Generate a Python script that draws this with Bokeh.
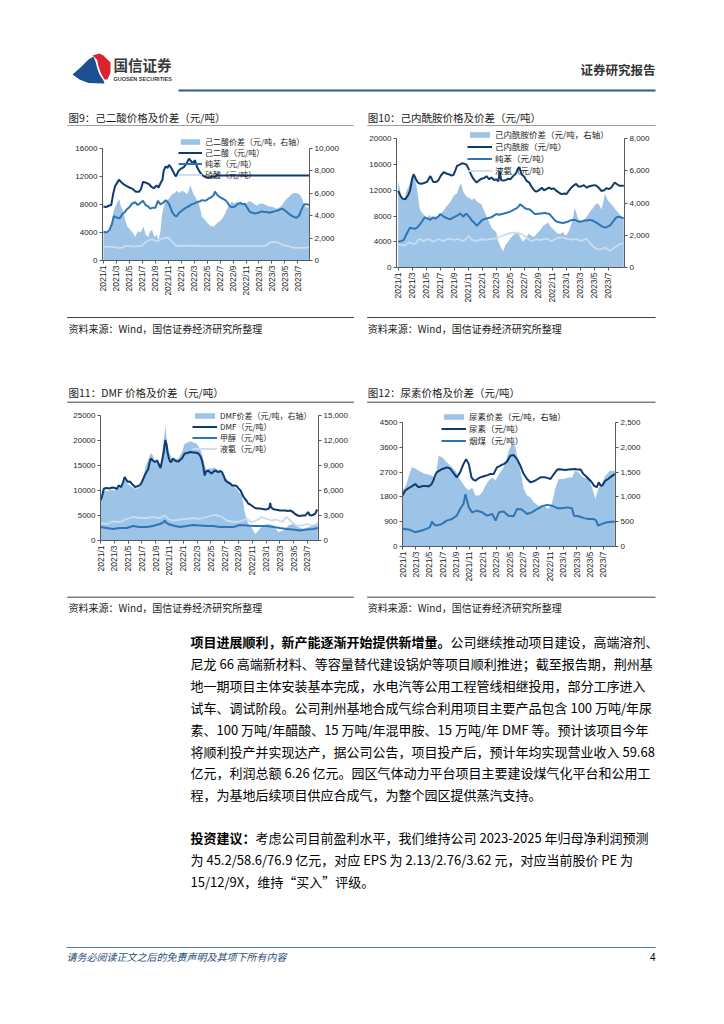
import math
from bokeh.plotting import figure
from bokeh.layouts import column, row
from bokeh.models import (Range1d, LinearAxis, FixedTicker, NumeralTickFormatter,
                          Legend, LegendItem)
from bokeh.core.properties import value
from bokeh.embed import file_html
from bokeh.resources import INLINE

# ---------------- data (x = months since 2021/1) ----------------
X_TICKS = [0, 2, 4, 6, 8, 10, 12, 14, 16, 18, 20, 22, 24, 26, 28, 30]
X_LABELS = ["2021/1", "2021/3", "2021/5", "2021/7", "2021/9", "2021/11",
            "2022/1", "2022/3", "2022/5", "2022/7", "2022/9", "2022/11",
            "2023/1", "2023/3", "2023/5", "2023/7"]

# Fig 9 adipic acid
C9_SPREAD = [(0,2500),(0.3,2700),(0.6,2400),(1.0,2600),(1.3,3500),(1.6,4500),(2.0,5000),(2.4,5500),(2.7,4800),
             (3.1,4300),(3.4,3500),(3.7,3000),(4.2,2700),(4.6,2400),(4.9,2100),(5.3,2600),(5.7,2500),(6.2,3000),
             (6.5,2300),(6.9,2100),(7.2,2600),(7.5,2700),(7.9,2100),(8.2,2300),(8.5,1800),(8.8,2600),(9.0,3900),
             (9.3,4800),(9.5,5200),(10.1,5500),(10.6,5900),(11.0,6000),(11.3,6200),(11.7,6000),(12.1,6200),
             (12.5,6100),(12.9,5900),(13.2,6300),(13.4,6700),(13.7,6200),(13.9,5900),(14.2,5600),(14.4,5400),
             (14.7,5100),(15.0,4400),(15.2,3900),(15.7,3600),(16.1,3300),(16.5,3100),(17.0,3000),(17.5,3300),
             (17.9,3500),(18.3,3700),(18.7,4100),(19.0,4500),(19.4,4900),(19.8,5200),(20.2,5100),(20.6,5200),
             (21.0,5100),(21.3,5200),(21.7,5000),(22.1,5100),(22.5,5300),(22.9,5200),(23.3,5000),(23.6,4900),
             (24.0,5000),(24.4,5100),(24.8,5000),(25.2,4900),(25.6,4800),(26.0,4800),(26.4,4700),(26.7,4600),
             (27.1,4700),(27.5,4900),(27.9,5200),(28.3,5500),(28.7,5700),(29.0,5900),(29.4,6000),(29.8,6000),
             (30.2,5900),(30.5,5700),(30.8,5300),(31.0,4900),(31.4,4700),(31.8,4800)]
C9_ADIPIC = [(0,7700),(0.4,7600),(0.8,7800),(1.2,7900),(1.5,9500),(1.8,10600),(2.2,11200),(2.4,11500),(2.8,11100),
             (3.2,10800),(3.6,10600),(4.0,10400),(4.5,10200),(5.0,9800),(5.5,9800),(5.8,10200),(6.1,11200),
             (6.5,11100),(7.0,10900),(7.4,10500),(7.8,10300),(8.2,10700),(8.5,10400),(8.8,11000),(9.1,11500),
             (9.3,12800),(9.6,13400),(9.9,13200),(10.1,13600),(10.4,13300),(10.7,12800),(11.0,12200),(11.2,12000),
             (11.6,12800),(12.0,13100),(12.4,13300),(12.8,13800),(13.2,14500),(13.5,14200),(13.8,13800),
             (14.1,14300),(14.5,13200),(14.8,12700),(15.1,12300),(15.5,12000),(16.0,11800),(16.5,11800),
             (16.8,12000),(17.2,11900),(17.5,12200),(18.0,12100),(31.8,12100)]
C9_BENZENE = [(0,4100),(0.5,4000),(0.9,4300),(1.3,5200),(1.6,6300),(2.1,6100),(2.5,6000),(2.9,6600),(3.3,6900),
              (3.6,7300),(4.0,7600),(4.4,8100),(4.9,8300),(5.3,7900),(5.7,8200),(6.1,8500),(6.5,7900),(6.9,7700),
              (7.2,7400),(7.6,7500),(8.0,7500),(8.4,8500),(8.8,8000),(9.2,8200),(9.6,8600),(10.1,8100),(10.6,6900),
              (11.0,6400),(11.3,6300),(11.7,6800),(12.1,7100),(12.5,7400),(12.9,7600),(13.3,7800),(13.6,8000),
              (14.0,8100),(14.4,8300),(14.8,8400),(15.2,8600),(15.7,8500),(16.2,8800),(16.6,9000),(17.0,9300),
              (17.2,9800),(17.6,9300),(18.0,9000),(18.4,8800),(18.8,8600),(19.2,8200),(19.5,7700),(19.9,7600),
              (20.3,7700),(20.7,8000),(21.1,8200),(21.5,8000),(21.8,8100),(22.2,7500),(22.6,6900),(23.0,6800),
              (23.4,6700),(23.9,6800),(24.4,7000),(24.8,6900),(25.2,6900),(25.6,6800),(26.0,6900),(26.4,7000),
              (26.7,7100),(27.1,7200),(27.5,7400),(27.9,7200),(28.3,6900),(28.7,6600),(29.0,6400),(29.4,6200),
              (29.8,6100),(30.2,6400),(30.5,7100),(30.8,7700),(31.0,8000),(31.4,8000),(31.8,7900)]
C9_NITRIC = [(0,2000),(0.5,1950),(1,1950),(1.5,1900),(2,1850),(2.5,1800),(3,1850),(3.4,2100),(4,2050),(4.5,2000),
             (5,2000),(5.5,2050),(6,2100),(6.5,2600),(7,2900),(7.5,3000),(8,2800),(8.5,2800),(9,3100),(9.5,3200),
             (9.9,3300),(10.3,3000),(10.7,2600),(11.2,2100),(12,2100),(14,2100),(16,2050),(18,2050),(20,2050),
             (22,2050),(24,2050),(25,2100),(25.7,2600),(26.3,2650),(27.0,2550),(27.6,2200),(28.5,2050),
             (29.2,1850),(30,1800),(31,1800),(31.8,1900)]

# Fig 10 caprolactam
C10_SPREAD = [(0,5400),(0.2,5000),(0.4,4500),(0.7,4200),(1.0,4400),(1.2,4800),(1.5,5000),(1.7,5300),(2.0,5600),
              (2.2,5800),(2.5,5300),(2.7,4900),(2.9,4200),(3.1,3600),(3.4,3400),(3.6,3300),(4.1,3100),(4.5,3300),
              (4.8,3000),(5.2,3200),(5.5,3100),(5.9,3300),(6.2,3400),(6.6,3600),(6.9,3800),(7.3,4000),(7.6,4200),
              (8.0,4500),(8.4,4600),(8.6,4900),(8.8,5100),(9.0,5200),(9.3,4700),(9.6,4500),(9.8,4400),(10.2,4300),
              (10.5,4200),(10.9,4300),(11.2,4100),(11.6,4000),(11.9,3900),(12.2,3600),(12.6,3200),(12.9,2900),
              (13.3,2500),(13.7,2300),(14.0,2200),(14.3,1600),(14.6,1300),(15.0,1000),(15.3,1400),(15.7,1600),
              (16.0,1800),(16.4,2000),(16.7,2100),(17.1,2200),(17.4,1900),(17.8,1600),(18.2,1800),(18.6,2100),
              (18.9,2000),(19.3,1900),(19.6,2000),(20.0,2200),(20.4,2400),(20.7,2600),(21.1,2700),(21.4,2800),
              (21.8,2500),(22.1,2400),(22.5,2200),(22.8,2100),(23.2,2100),(23.5,2200),(23.8,2000),(24.0,2000),
              (24.4,2300),(24.7,2700),(25.0,3200),(25.2,3700),(25.5,3300),(25.7,3000),(26.1,2900),(26.4,2900),
              (26.8,3100),(27.1,3300),(27.4,3500),(27.8,3700),(28.1,3900),(28.5,4000),(28.8,3800),(29.0,3600),
              (29.3,4100),(29.5,4600),(29.9,4200),(30.3,4000),(30.7,3800),(31.0,3600),(31.4,3400),(31.8,3200),
              (32.2,2900)]
C10_CPL = [(0,11900),(0.3,11200),(0.6,10700),(1.0,10600),(1.4,11200),(1.7,12000),(2.0,13800),(2.2,14500),
           (2.5,13800),(2.8,13200),(3.2,13000),(3.6,13100),(4.1,13300),(4.6,14200),(5.0,13300),(5.4,13300),
           (5.7,13500),(6.1,14300),(6.5,14800),(6.9,14600),(7.2,14500),(7.6,14300),(7.9,14400),(8.2,15200),
           (8.4,15800),(8.8,16000),(9.1,16200),(9.5,16100),(9.8,15900),(10.1,15200),(10.5,14200),(10.8,13700),
           (11.2,13200),(11.5,13500),(11.9,13800),(12.3,13900),(12.6,14200),(13.0,13700),(13.3,14000),
           (13.7,13600),(14.0,13700),(14.3,13400),(14.5,14900),(14.7,13600),(15.0,13500),(15.4,13600),
           (15.7,13800),(16.0,13700),(16.4,14200),(16.8,14600),(17.1,15400),(17.3,15600),(17.6,14500),
           (18.0,14100),(18.3,13500),(18.7,13200),(19.0,12600),(19.4,12000),(19.7,11800),(20.1,12000),
           (20.5,12400),(20.8,12000),(21.2,12200),(21.5,12400),(21.9,12200),(22.2,12300),(22.6,11900),
           (23.0,11600),(23.3,11400),(23.7,11500),(24.0,11400),(24.4,12000),(24.7,12400),(25.0,12700),
           (25.4,13000),(25.7,12600),(26.1,12600),(26.5,12800),(26.9,12400),(27.2,12600),(27.6,12700),
           (28.0,12800),(28.3,12700),(28.7,12300),(29.0,11900),(29.4,12000),(29.7,12300),(30.1,12200),
           (30.4,12400),(30.7,12900),(30.9,13200),(31.3,12900),(31.6,12700),(32.2,12700)]
C10_BENZENE = [(0,4000),(0.4,4100),(0.8,4300),(1.2,5200),(1.7,6200),(2.0,6100),(2.4,6000),(2.8,6300),(3.1,6700),
               (3.5,7300),(3.8,7800),(4.2,7600),(4.6,7400),(4.9,7800),(5.3,7600),(5.7,7900),(6.0,8300),(6.4,8000),
               (6.7,7800),(7.1,7600),(7.4,7500),(7.8,7700),(8.1,7900),(8.5,8100),(8.8,8400),(9.1,8100),(9.3,7900),
               (9.6,8300),(9.8,8300),(10.2,7800),(10.5,7300),(10.9,6900),(11.2,6500),(11.5,6800),(11.9,7300),
               (12.2,7500),(12.6,7600),(12.9,7700),(13.3,7800),(13.7,8100),(14.0,8300),(14.4,8200),(14.8,8300),
               (15.1,8400),(15.5,8500),(15.8,8600),(16.2,8800),(16.5,9000),(16.9,9200),(17.2,9500),(17.4,9800),
               (17.8,9500),(18.1,9200),(18.4,9100),(18.8,9000),(19.1,8700),(19.5,8300),(19.8,8300),(20.2,8400),
               (20.5,8400),(20.9,8500),(21.2,8400),(21.6,8300),(22.0,7800),(22.4,7300),(22.7,7100),(23.1,7000),
               (23.5,6900),(23.8,7000),(24.2,7100),(24.5,7300),(24.9,7400),(25.2,7400),(25.6,7200),(25.9,7100),
               (26.3,7200),(26.6,7300),(27.0,7300),(27.3,7400),(27.7,7300),(28.1,7100),(28.4,6900),(28.8,6600),
               (29.1,6400),(29.5,6200),(29.8,6300),(30.2,6500),(30.5,6900),(30.9,7500),(31.2,7800),(31.6,7900),
               (32.2,7600)]
C10_AMMONIA = [(0,3600),(0.4,3500),(0.8,3400),(1.2,3600),(1.5,3900),(1.9,3800),(2.2,3600),(2.6,3900),(2.9,4400),
               (3.3,4300),(3.6,4100),(4.0,4300),(4.4,4400),(4.7,4200),(5.0,4000),(5.4,4200),(5.7,4400),(6.1,4300),
               (6.5,4100),(6.8,4300),(7.2,4500),(7.5,4400),(7.9,4300),(8.3,4400),(8.6,4400),(9.0,4200),(9.3,4100),
               (9.7,4500),(10.0,4900),(10.3,4600),(10.5,4300),(10.9,4200),(11.2,4100),(11.6,4300),(11.9,4400),
               (12.3,4300),(12.6,4300),(13.0,4400),(13.3,4400),(13.7,4500),(14.0,4500),(14.4,4700),(14.8,4900),
               (15.1,5000),(15.5,5200),(15.8,5300),(16.2,5400),(16.5,5400),(16.9,5400),(17.2,5300),(17.6,5200),
               (17.9,5000),(18.3,4700),(18.6,4400),(19.0,4100),(19.3,4200),(19.7,4400),(20.0,4300),(20.4,4300),
               (20.8,4400),(21.2,4500),(21.5,4300),(21.9,4100),(22.2,4300),(22.6,4500),(22.9,4600),(23.3,4700),
               (23.6,4600),(24.0,4500),(24.3,4400),(24.7,4300),(25.0,4400),(25.4,4400),(25.7,4300),(26.1,4100),
               (26.5,4300),(26.9,4500),(27.3,3900),(27.6,3500),(28.1,3000),(28.4,2900),(28.8,2800),(29.1,2900),
               (29.5,3100),(29.8,2900),(30.2,2600),(30.5,2800),(30.9,3100),(31.2,3300),(31.6,3600),(32.2,3800)]

# Fig 11 DMF
C11_SPREAD = [(0,3800),(0.2,5800),(0.6,6000),(1.0,5900),(1.5,6100),(2.0,6000),(2.5,6200),(3.0,6500),(3.5,7600),
              (3.9,6800),(4.3,6600),(4.8,6300),(5.3,6200),(5.8,6500),(6.2,7400),(6.5,8800),(6.9,9700),(7.3,10500),
              (7.6,10200),(7.9,9400),(8.2,9800),(8.5,9400),(8.7,8800),(9.0,11000),(9.2,12200),(9.4,13800),
              (9.6,12000),(9.8,11200),(10.1,10200),(10.5,9700),(10.9,9800),(11.3,9800),(11.8,10600),(12.2,11600),
              (12.7,11800),(13.1,11900),(13.4,11800),(13.9,11600),(14.2,11300),(14.4,11000),(14.7,10400),
              (14.9,9800),(15.2,8800),(15.4,8400),(15.8,8700),(16.1,8600),(16.5,8800),(16.8,8600),(17.2,8300),
              (17.6,8000),(17.9,7700),(18.3,7400),(18.6,7100),(19.0,6800),(19.3,6500),(19.7,6200),(20.1,5800),
              (20.5,5400),(20.7,4400),(20.9,3400),(21.2,2600),(21.4,2000),(21.7,1700),(21.9,1600),(22.2,1100),
              (22.4,800),(22.7,1000),(22.9,1200),(23.2,1500),(23.6,1800),(24.0,1900),(24.3,2000),(24.7,1900),
              (25.1,1800),(25.4,1400),(25.8,1000),(26.1,1100),(26.5,1200),(26.9,1500),(27.2,1800),(27.6,1900),
              (28.0,2000),(28.3,1800),(28.7,1600),(29.0,1500),(29.4,1400),(29.8,1500),(30.1,1600),(30.5,1700),
              (30.9,1800),(31.2,2000),(31.5,2200)]
C11_DMF = [(0,8000),(0.2,8700),(0.5,10400),(0.9,10500),(1.3,10400),(1.7,10600),(2.1,10500),(2.4,10300),(2.6,11000),
           (3.0,10700),(3.3,11800),(3.5,12700),(3.8,12000),(4.0,11700),(4.3,11800),(4.5,11400),(4.8,11000),
           (5.0,10700),(5.5,10900),(5.8,11200),(6.0,11700),(6.4,13000),(6.7,13800),(6.9,14200),(7.1,15500),
           (7.3,16400),(7.6,16000),(7.9,15700),(8.2,16000),(8.4,15400),(8.7,14500),(9.0,16500),(9.2,18000),
           (9.4,20100),(9.6,19000),(9.7,17700),(9.9,16500),(10.1,15700),(10.3,15800),(10.5,16400),(10.9,15900),
           (11.3,15800),(11.6,16200),(11.8,16400),(12.2,17400),(12.6,17500),(13.0,17700),(13.4,17600),
           (13.7,17600),(14.2,17400),(14.5,16800),(14.7,16000),(14.9,14800),(15.1,13000),(15.3,13800),
           (15.6,14000),(15.9,13600),(16.1,13400),(16.4,13800),(16.6,14000),(16.9,13800),(17.1,13700),
           (17.4,13900),(17.6,13700),(17.9,12800),(18.1,12000),(18.5,11600),(18.8,11400),(19.1,11000),
           (19.5,11000),(19.8,10800),(20.0,10400),(20.3,10000),(20.5,9400),(20.7,8800),(20.9,8400),(21.2,7900),
           (21.4,7400),(21.7,7200),(21.9,7000),(22.2,6700),(22.4,6500),(22.8,6400),(23.1,6400),(23.5,6300),
           (23.9,6200),(24.3,6300),(24.5,6600),(24.6,7500),(24.7,6700),(25.0,6300),(25.3,6200),(25.7,6100),
           (26.0,6000),(26.4,6000),(26.8,6000),(27.1,5900),(27.5,6000),(27.9,5700),(28.2,5300),(28.6,5000),
           (28.9,4900),(29.3,5000),(29.7,5000),(30.1,5700),(30.3,5100),(30.6,5000),(30.9,5200),(31.1,5300),
           (31.4,6200)]
C11_METHANOL = [(0,2700),(0.9,2500),(1.8,2300),(2.8,2500),(3.8,2500),(4.7,2900),(5.7,2700),(6.7,2700),(7.6,2900),
                (8.6,3300),(9.1,3600),(9.3,4000),(9.6,3500),(9.8,3300),(10.5,3000),(11.5,2700),(12.5,2900),
                (13.4,3100),(14.4,3000),(15.4,2900),(16.4,2900),(17.3,2700),(18.3,2700),(19.3,2700),(20.2,3100),
                (21.2,3000),(22.2,2900),(23.1,2900),(24.1,2900),(25.1,2700),(26.0,2500),(27.0,2300),(27.9,2200),
                (28.9,2000),(29.9,2200),(30.9,2300),(31.5,2500)]
C11_AMMONIA = [(0,3500),(0.9,3300),(1.8,3800),(2.8,3700),(3.8,4300),(4.7,4700),(5.7,4500),(6.7,4500),(7.6,4700),
               (8.6,4500),(9.3,5100),(9.8,4300),(10.5,4000),(11.5,4200),(12.5,4300),(13.4,4500),(14.4,4300),
               (15.4,4700),(16.4,5100),(16.9,5000),(17.6,4700),(18.3,4000),(19.3,3700),(20.2,3800),(21.2,4300),
               (21.9,3700),(22.6,4000),(23.4,4700),(24.1,4300),(24.8,4000),(25.5,4200),(26.3,3700),(27.0,4700),
               (27.7,3700),(28.4,3000),(29.2,3000),(29.9,3300),(30.6,3000),(31.5,3300)]

# Fig 12 urea
C12_SPREAD = [(0,1130),(0.3,1180),(0.6,1260),(1.0,1450),(1.4,1600),(1.8,1580),(2.1,1560),(2.5,1520),(2.9,1490),
              (3.2,1470),(3.6,1460),(4.0,1440),(4.4,1430),(4.9,1360),(5.2,1650),(5.4,1830),(5.9,1800),(6.2,1760),
              (6.6,1700),(7.0,1650),(7.4,1600),(7.9,1530),(8.4,1390),(8.9,1290),(9.4,1190),(9.9,1130),(10.4,1190),
              (10.9,1030),(11.4,1030),(11.9,1090),(12.4,1230),(12.9,1330),(13.4,1390),(13.9,1330),(14.4,1460),
              (14.8,1530),(15.1,1600),(15.5,1750),(15.8,1900),(16.3,2060),(16.8,2030),(17.2,1760),(17.6,1530),
              (18.1,1160),(18.6,1030),(19.1,990),(19.6,890),(20.3,820),(21.1,820),(21.8,760),(22.3,860),
              (22.8,1160),(23.3,1360),(24.1,1360),(24.8,1390),(25.3,1390),(25.8,1530),(26.3,1490),(26.7,1420),
              (27.1,1390),(27.8,1360),(28.3,1190),(28.8,960),(29.2,1160),(29.8,1260),(30.3,1430),(30.7,1480),
              (31.0,1530),(31.4,1520),(31.7,1530)]
C12_UREA = [(0,1850),(0.4,2030),(0.8,2100),(1.15,2150),(1.5,2200),(1.9,2270),(2.4,2150),(2.8,2180),(3.1,2200),
            (3.5,2200),(3.9,2180),(4.3,2250),(4.6,2390),(4.9,2600),(5.1,2690),(5.5,2750),(5.9,2810),(6.3,2840),
            (6.6,2870),(7.1,2830),(7.6,2670),(8.1,2510),(8.6,2690),(9.1,2990),(9.5,3170),(9.9,2990),(10.3,2510),
            (10.6,2420),(10.9,2390),(11.2,2450),(11.6,2510),(12.0,2540),(12.4,2570),(12.8,2600),(13.1,2630),
            (13.6,2630),(14.1,2870),(14.5,2920),(14.8,2960),(15.2,3000),(15.6,3080),(16.1,3290),(16.6,3320),
            (17.1,3170),(17.6,2930),(18.1,2630),(18.6,2450),(19.1,2330),(19.5,2360),(19.8,2390),(20.2,2450),
            (20.6,2510),(21.0,2510),(21.3,2510),(21.7,2480),(22.1,2450),(22.6,2630),(23.1,2790),(23.5,2800),
            (23.8,2790),(24.3,2780),(24.8,2790),(25.3,2800),(25.8,2810),(26.2,2790),(26.6,2790),(27.0,2630),
            (27.4,2550),(27.8,2450),(28.2,2350),(28.6,2210),(29.0,2150),(29.3,2330),(29.6,2200),(29.8,2210),
            (30.3,2390),(30.7,2450),(31.0,2510),(31.4,2580),(31.7,2630)]
C12_COAL = [(0,640),(0.9,620),(1.9,520),(2.9,580),(3.6,640),(4.1,700),(4.4,900),(4.7,800),(5.1,760),(5.9,820),
            (6.6,940),(7.4,1000),(8.1,1120),(8.6,1360),(9.1,1540),(9.4,1900),(9.6,1700),(9.9,1420),(10.4,1240),
            (11.1,1300),(11.9,1240),(12.6,1120),(13.4,1180),(13.9,940),(14.4,1240),(15.1,1270),(15.8,1120),
            (16.6,1100),(17.1,1360),(17.8,1340),(18.6,1180),(19.3,1240),(20.1,1360),(20.8,1460),(21.6,1510),
            (22.3,1480),(23.1,1390),(23.8,1390),(24.6,1420),(25.3,1390),(25.6,1120),(26.3,1100),(27.1,1030),
            (27.8,1000),(28.5,1000),(28.9,950),(29.2,760),(29.8,820),(30.5,880),(31.3,900),(31.7,900)]

BODY_P1 = [
    ("项目进展顺利，新产能逐渐开始提供新增量。", "公司继续推动项目建设，高端溶剂、"),
    ("", "尼龙 66 高端新材料、等容量替代建设锅炉等项目顺利推进；截至报告期，荆州基"),
    ("", "地一期项目主体安装基本完成，水电汽等公用工程管线相继投用，部分工序进入"),
    ("", "试车、调试阶段。公司荆州基地合成气综合利用项目主要产品包含 100 万吨/年尿"),
    ("", "素、100 万吨/年醋酸、15 万吨/年混甲胺、15 万吨/年 DMF 等。预计该项目今年"),
    ("", "将顺利投产并实现达产，据公司公告，项目投产后，预计年均实现营业收入 59.68"),
    ("", "亿元，利润总额 6.26 亿元。园区气体动力平台项目主要建设煤气化平台和公用工"),
    ("", "程，为基地后续项目供应合成气，为整个园区提供蒸汽支持。"),
]
BODY_P2 = [
    ("投资建议：", "考虑公司目前盈利水平，我们维持公司 2023-2025 年归母净利润预测"),
    ("", "为 45.2/58.6/76.9 亿元，对应 EPS 为 2.13/2.76/3.62 元，对应当前股价 PE 为"),
    ("", "15/12/9X，维持“买入”评级。"),
]

# ---------------- styles ----------------
CJK = "Noto Sans CJK SC"
NUM = "Liberation Sans"
AREA = "#9DC3E6"
DARK = "#0F3B6F"
MID = "#2E75B6"
LIGHT = "#C8DDF1"
AXIS = "#595959"
TXT = "#262626"
W = 724


def strip(w, h):
    p = figure(width=w, height=h, x_range=Range1d(0, w), y_range=Range1d(h, 0),
               output_backend="svg", toolbar_location=None, title=None,
               x_axis_location=None, y_axis_location=None, min_border=0)
    p.grid.visible = False
    p.outline_line_color = None
    return p


def txt(p, x, y, s, size, font=CJK, color=TXT, align="left", style="normal"):
    p.text(x=[x], y=[y], text=[s], text_font=value(font), text_font_size=size,
           text_color=color, text_align=align, text_baseline="middle", text_font_style=style)


def hline(p, x0, x1, y, color, width=1.0):
    p.segment(x0=[x0], y0=[y], x1=[x1], y1=[y], line_color=color, line_width=width)


def style_axis(ax, size="8px"):
    ax.axis_line_color = AXIS
    ax.major_tick_line_color = AXIS
    ax.minor_tick_line_color = None
    ax.major_tick_in = 0
    ax.major_tick_out = 3
    ax.major_label_text_font = NUM
    ax.major_label_text_font_size = size
    ax.major_label_text_color = TXT
    ax.major_label_standoff = 2


def chart(w, h, bl, br, bt, bb, xr, ytop, ymax, ystep, rtop, rmax, rstep, spread, series, labels,
          loc, spacing, lfont, gw=25):
    p = figure(width=w, height=h, x_range=Range1d(*xr), y_range=Range1d(0, ytop),
               output_backend="svg", toolbar_location=None, title=None,
               min_border_left=bl, min_border_right=br, min_border_top=bt, min_border_bottom=bb)
    p.outline_line_color = None
    p.grid.visible = False
    p.extra_y_ranges = {"r": Range1d(0, rtop)}

    xa = p.xaxis[0]
    style_axis(xa, "8.5px")
    xa.ticker = FixedTicker(ticks=X_TICKS)
    xa.major_label_overrides = {t: lab for t, lab in zip(X_TICKS, X_LABELS)}
    xa.major_label_orientation = math.pi / 2

    ya = p.yaxis[0]
    style_axis(ya)
    ya.ticker = FixedTicker(ticks=list(range(0, ymax + 1, ystep)))
    ya.formatter = NumeralTickFormatter(format="0")
    ya.bounds = (0, ymax)

    ra = LinearAxis(y_range_name="r", ticker=FixedTicker(ticks=list(range(0, rmax + 1, rstep))),
                    formatter=NumeralTickFormatter(format="0,0"), bounds=(0, rmax))
    style_axis(ra)
    p.add_layout(ra, "right")

    sm = [a for a, b in spread]
    sv = [b for a, b in spread]
    rends = [p.varea(x=sm, y1=0, y2=sv, fill_color=AREA, y_range_name="r")]
    colors = [DARK, MID, LIGHT]
    widths = [2.0, 2.0, 1.8]
    for i, s in enumerate(series):
        rends.append(p.line([a for a, b in s], [b for a, b in s], line_color=colors[i],
                            line_width=widths[i]))
    items = [LegendItem(label=l, renderers=[r]) for l, r in zip(labels, rends)]
    leg = Legend(items=items, location=loc, background_fill_alpha=0, border_line_color=None,
                 padding=0, margin=0, spacing=spacing, label_height=9, glyph_height=7, glyph_width=gw,
                 label_standoff=3, label_text_font=CJK, label_text_font_size=lfont,
                 label_text_color=TXT)
    p.add_layout(leg)
    return p


SRC = "资料来源：Wind，国信证券经济研究所整理"

# ---------------- header (y 0-100) ----------------
hdr = strip(W, 100)
blue_logo = [(72, 74), (80, 67), (88, 59), (93, 56), (95, 61), (96.5, 67), (99, 74), (103, 80), (104, 83),
             (88, 82.5), (79, 79)]
red_logo = [(92, 55), (99, 53), (103, 55), (110, 62), (110, 72), (107, 79), (104, 79), (100.5, 73),
            (98, 66), (96.5, 59)]
hdr.patch([a for a, b in blue_logo], [b for a, b in blue_logo], fill_color="#1D4E8F", line_color=None)
hdr.patch([a for a, b in red_logo], [b for a, b in red_logo], fill_color="#D9232E", line_color=None)
txt(hdr, 113, 63.5, "国信证券", "14.5px", color="#3a3a3a", style="bold")
txt(hdr, 113, 78.5, "GUOSEN SECURITIES", "5.5px", font=NUM, color="#3a3a3a", style="bold")
txt(hdr, 655, 69, "证券研究报告", "12.5px", color="#333333", align="right", style="bold")
hline(hdr, 178, 655, 90, "#2F5B8C", 2.2)

# ---------------- strip 1: titles of fig 9/10 (y 100-126) ----------------
s1 = strip(W, 26)
txt(s1, 68, 17, "图9：己二酸价格及价差（元/吨）", "10.5px", color="#1a1a1a")
txt(s1, 367.3, 17, "图10：己内酰胺价格及价差（元/吨）", "10.5px", color="#1a1a1a")
hline(s1, 66.7, 353.3, 25.5, "#404040", 1)
hline(s1, 366.7, 655, 25.5, "#404040", 1)

# ---------------- charts row 1 (y 126-312) ----------------
c9 = chart(362, 186, 102, 53, 0, 52, (-0.15, 31.8), 19091, 16000, 4000, 11932, 10000, 2000, C9_SPREAD,
           [C9_ADIPIC, C9_BENZENE, C9_NITRIC],
           ["己二酸价差（元/吨，右轴）", "己二酸（元/吨）", "纯苯（元/吨）", "硝酸（元/吨）"],
           (76, 80), -2, "8px", 24)
c10 = chart(362, 186, 34, 100, 0, 45, (-0.24, 32.3), 21911, 20000, 4000, 8765, 8000, 2000, C10_SPREAD,
            [C10_CPL, C10_BENZENE, C10_AMMONIA],
            ["己内酰胺价差（元/吨，右轴）", "己内酰胺（元/吨）", "纯苯（元/吨）", "液氨（元/吨）"],
            (71, 91), -3, "8.5px")

# ---------------- strip 2: sources row 1 + titles row 2 (y 312-405) ----------------
s2 = strip(W, 93)
hline(s2, 66.7, 353.3, 5, "#404040", 1)
hline(s2, 366.7, 655, 5, "#404040", 1)
txt(s2, 68, 16, SRC, "10px", color="#1a1a1a")
txt(s2, 367.3, 16, SRC, "10px", color="#1a1a1a")
txt(s2, 68, 80.3, "图11：DMF 价格及价差（元/吨）", "10.5px", color="#1a1a1a")
txt(s2, 367.3, 80.3, "图12：尿素价格及价差（元/吨）", "10.5px", color="#1a1a1a")
hline(s2, 66.7, 353.3, 89.7, "#404040", 1)
hline(s2, 366.7, 655, 89.7, "#404040", 1)

# ---------------- charts row 2 (y 405-592) ----------------
c11 = chart(362, 187, 100, 44, 3, 52, (0, 31.6), 26400, 25000, 5000, 15840, 15000, 3000, C11_SPREAD,
            [C11_DMF, C11_METHANOL, C11_AMMONIA],
            ["DMF价差（元/吨，右轴）", "DMF（元/吨）", "甲醇（元/吨）", "液氨（元/吨）"],
            (92, 86), -1, "8px")
c12 = chart(362, 187, 40, 109, 6, 46, (0, 31.8), 4899, 4500, 900, 2722, 2500, 500, C12_SPREAD,
            [C12_UREA, C12_COAL],
            ["尿素价差（元/吨，右轴）", "尿素（元/吨）", "烟煤（元/吨）"],
            (39, 100), -1, "8.5px")

# ---------------- bottom: sources row 2, body text, footer (y 592-1020) ----------------
bot = strip(W, 428)
hline(bot, 66.7, 353.3, 4.7, "#404040", 1)
hline(bot, 366.7, 655, 4.7, "#404040", 1)
txt(bot, 68, 15, SRC, "10px", color="#1a1a1a")
txt(bot, 367.3, 15, SRC, "10px", color="#1a1a1a")
X0 = 190
FS = 13
for i, (b, r) in enumerate(BODY_P1):
    y = 49 + 21.9 * i
    if b:
        txt(bot, X0, y, b, "13px", color="#000000", style="bold")
    txt(bot, X0 + FS * len(b), y, r, "13px", color="#000000")
for i, (b, r) in enumerate(BODY_P2):
    y = 245 + 22 * i
    if b:
        txt(bot, X0, y, b, "13px", color="#000000", style="bold")
    txt(bot, X0 + FS * len(b), y, r, "13px", color="#000000")
hline(bot, 66, 655, 355, "#4F7FB3", 1)
txt(bot, 66, 364, "请务必阅读正文之后的免责声明及其项下所有内容", "10px", color="#1F4E79", style="italic")
txt(bot, 655, 364, "4", "10px", font=NUM, color="#000000", align="right")

page = column(
    hdr,
    s1,
    row(column(c9), column(c10)),
    s2,
    row(column(c11), column(c12)),
    bot,
)

open("out.html", "w").write(file_html(page, INLINE))
